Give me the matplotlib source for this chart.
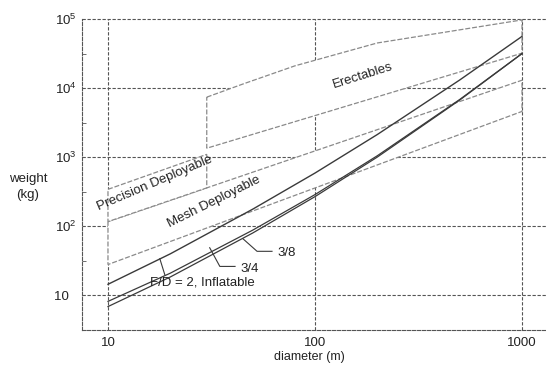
import matplotlib.pyplot as plt
import numpy as np

plt.rcParams['font.family'] = ['Liberation Sans', 'DejaVu Sans']
plt.rcParams['mathtext.fontset'] = 'custom'
plt.rcParams['mathtext.rm'] = 'Liberation Sans'
plt.rcParams['mathtext.it'] = 'Liberation Sans:italic'

# antenna weight vs diameter
diam = [10, 20, 50, 100, 200, 500, 1000]
w_inflatable = [14.5, 40, 177, 590, 2130, 13100, 56000]
w_38 = [8.2, 21, 88, 288, 1050, 6840, 31600]
w_34 = [6.9, 18.5, 80, 269, 1005, 6710, 31600]

# technology bands (edges)
erect_top_d = [30, 45, 80, 200, 1000]
erect_top_w = [7400, 11500, 21000, 45000, 97000]
erect_bot_d = [30, 1000]
erect_bot_w = [1350, 32000]

mesh_top_d = [10, 1000]
mesh_top_w = [117, 13000]
mesh_bot_d = [10, 1000]
mesh_bot_w = [28, 4600]

prec_top_d = [10, 30]
prec_top_w = [343, 1100]
prec_bot_d = [10, 30]
prec_bot_w = [117, 360]

xticks = [10, 100, 1000]
yticks = [10, 1e2, 1e3, 1e4, 1e5]
ytick_labels = ['10  ', r'$10^{2}$', r'$10^{3}$', r'$10^{4}$', r'$10^{5}$']

GRID = '#555555'
EDGE = '#8a8a8a'
LINE = '#3a3a3a'

fig = plt.figure(figsize=(5.46, 3.65), dpi=100)
ax = fig.add_axes([82/546, 1-330/365, (546-82)/546, (330-19)/365])
ax.set_xscale('log')
ax.set_yscale('log')
ax.set_xlim(7.49, 1306)
ax.set_ylim(3.21, 1e5)

# grid (dashed), sits under the white bands
for xv in xticks:
    ax.axvline(xv, color=GRID, lw=0.8, ls=(0, (3, 1.5)), zorder=0.5)
for yv in yticks:
    ax.axhline(yv, color=GRID, lw=0.8, ls=(0, (3, 1.5)), zorder=0.5, clip_on=False)


def band(top_d, top_w, bot_d, bot_w):
    xs = list(top_d) + list(bot_d[::-1])
    ys = list(top_w) + list(bot_w[::-1])
    ax.fill(xs, ys, facecolor='white', edgecolor=EDGE, lw=0.9,
            ls=(0, (4, 1.5)), zorder=1)


band(erect_top_d, erect_top_w, erect_bot_d, erect_bot_w)
band(mesh_top_d, mesh_top_w, mesh_bot_d, mesh_bot_w)
band(prec_top_d, prec_top_w, prec_bot_d, prec_bot_w)

ax.plot(diam, w_inflatable, color=LINE, lw=1.0, zorder=3)
ax.plot(diam, w_38, color=LINE, lw=0.9, zorder=3)
ax.plot(diam, w_34, color=LINE, lw=0.9, zorder=3)

# leaders + labels
ax.plot([17.8, 18.8], [34, 20.1], color=LINE, lw=0.8, zorder=3)
ax.text(16.0, 15.4, 'F/D = 2, Inflatable', fontsize=9.5, ha='left', va='center',
        color='#222222', zorder=4)
ax.plot([31, 34.7, 41.1], [49, 26.3, 26.3], color=LINE, lw=0.8, zorder=3)
ax.text(43.5, 24.5, '3/4', fontsize=9.5, ha='left', va='center', color='#222222')
ax.plot([44.9, 52.5, 62], [66, 43.5, 43.5], color=LINE, lw=0.8, zorder=3)
ax.text(66.2, 41.5, '3/8', fontsize=9.5, ha='left', va='center', color='#222222')

ax.text(171, 14900, 'Erectables', fontsize=9.5, rotation=17.5, ha='center',
        va='center', rotation_mode='anchor', color='#222222', zorder=4)
ax.text(16.9, 420, 'Precision Deployable', fontsize=9.5, rotation=23,
        ha='center', va='center', rotation_mode='anchor', color='#222222', zorder=4)
ax.text(32.5, 223, 'Mesh Deployable', fontsize=9.5, rotation=26.5,
        ha='center', va='center', rotation_mode='anchor', color='#222222', zorder=4)

# axes styling
for s in ['top', 'right']:
    ax.spines[s].set_visible(False)
for s in ['left', 'bottom']:
    ax.spines[s].set_linestyle((0, (3, 1.5)))
    ax.spines[s].set_color(GRID)
    ax.spines[s].set_linewidth(0.8)

ax.set_xticks(xticks)
ax.set_xticklabels(['10', '100', '1000'])
ax.set_yticks(yticks)
ax.set_yticklabels(ytick_labels)
ax.set_yticks([10**(k + 0.5) for k in range(0, 5)], minor=True)
ax.set_xticks([], minor=True)
ax.tick_params(axis='both', which='major', length=0, labelsize=9.5, colors='#222222')
ax.tick_params(axis='x', pad=5)
ax.tick_params(axis='y', pad=4)
ax.tick_params(axis='y', which='minor', direction='in', length=3, color=GRID,
               labelleft=False)

fig.text(28/546, 1-187/365, 'weight\n(kg)', ha='center', va='center',
         fontsize=9.5, color='#222222', linespacing=1.4)
fig.text(309/546, 1-357/365, 'diameter (m)', ha='center', va='center',
         fontsize=9, color='#222222')

fig.savefig('out.png', dpi=100)
